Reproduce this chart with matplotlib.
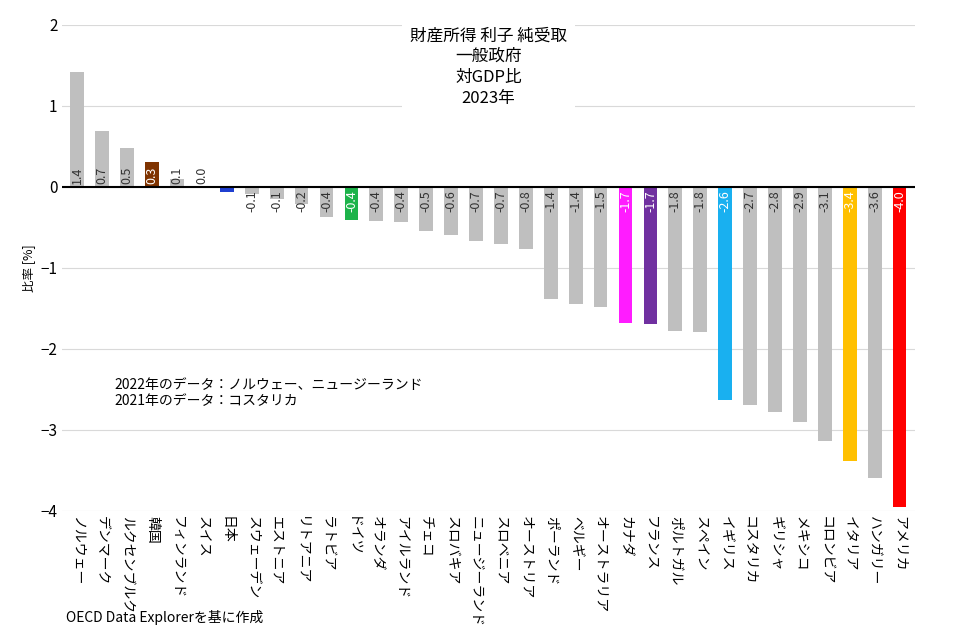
import numpy as np
import matplotlib.pyplot as plt

plt.rcParams['font.family'] = ['Noto Sans CJK JP', 'DejaVu Sans']

countries = ["ノルウェー", "デンマーク", "ルクセンブルク", "韓国", "フィンランド", "スイス", "日本",
             "スウェーデン", "エストニア", "リトアニア", "ラトビア", "ドイツ", "オランダ", "アイルランド",
             "チェコ", "スロバキア", "ニュージーランド", "スロベニア", "オーストリア", "ポーランド",
             "ベルギー", "オーストラリア", "カナダ", "フランス", "ポルトガル", "スペイン", "イギリス",
             "コスタリカ", "ギリシャ", "メキシコ", "コロンビア", "イタリア", "ハンガリー", "アメリカ"]
values = [1.42, 0.69, 0.48, 0.31, 0.09, 0.01, -0.07, -0.09, -0.15, -0.21, -0.37, -0.41, -0.42,
          -0.44, -0.54, -0.60, -0.67, -0.71, -0.77, -1.39, -1.45, -1.48, -1.68, -1.70, -1.78,
          -1.79, -2.63, -2.69, -2.78, -2.90, -3.14, -3.39, -3.60, -3.95]
highlight = {"韓国": "#7f3300", "日本": "#1f3fd0", "ドイツ": "#1db34a", "カナダ": "#ff1cff",
             "フランス": "#7030a0", "イギリス": "#19b0f0", "イタリア": "#ffc000", "アメリカ": "#ff0000"}

fig = plt.figure(figsize=(9.75, 6.36), dpi=100)
ax = fig.add_axes([0.064, 0.197, 0.874, 0.764])
x = np.arange(len(countries))
colors = [highlight.get(c, "#bfbfbf") for c in countries]
ax.bar(x, values, width=0.55, color=colors, zorder=2)
ax.axhline(0, color="black", lw=1.5, zorder=3)

for i, (c, v) in enumerate(zip(countries, values)):
    tc = "white" if c in highlight and c not in ("イタリア",) else "#333333"
    if c == "イタリア":
        tc = "white"
    if v >= 0:
        ax.text(i, 0.04, f"{round(v, 1):.1f}", rotation=90, ha="center", va="bottom",
                fontsize=9, color=tc, zorder=4)
    else:
        ax.text(i, -0.04, f"{round(v, 1):.1f}", rotation=90, ha="center", va="top",
                fontsize=9, color=tc, zorder=4)

ax.set_xlim(-0.6, len(countries) - 0.4)
ax.set_ylim(-4, 2)
ax.set_yticks([-4, -3, -2, -1, 0, 1, 2])
ax.yaxis.grid(True, color="#d9d9d9", lw=0.8, zorder=0)
for s in ax.spines.values():
    s.set_visible(False)
ax.tick_params(length=0, labelsize=11)
ax.set_xticks(x)
ax.set_xticklabels(countries, rotation=-90, fontsize=10, va="top")
ax.set_ylabel("比率 [%]", fontsize=9)

ax.text(0.5, 0.995, "財産所得 利子 純受取\n一般政府\n対GDP比\n2023年", transform=ax.transAxes,
        ha="center", va="top", fontsize=12, linespacing=1.3, zorder=5,
        bbox=dict(facecolor="white", edgecolor="none", pad=6))
ax.text(1.5, -2.55, "2022年のデータ：ノルウェー、ニュージーランド\n2021年のデータ：コスタリカ",
        fontsize=10, va="center", zorder=5)
fig.text(0.068, 0.022, "OECD Data Explorerを基に作成", fontsize=10)

fig.savefig("out.png")
